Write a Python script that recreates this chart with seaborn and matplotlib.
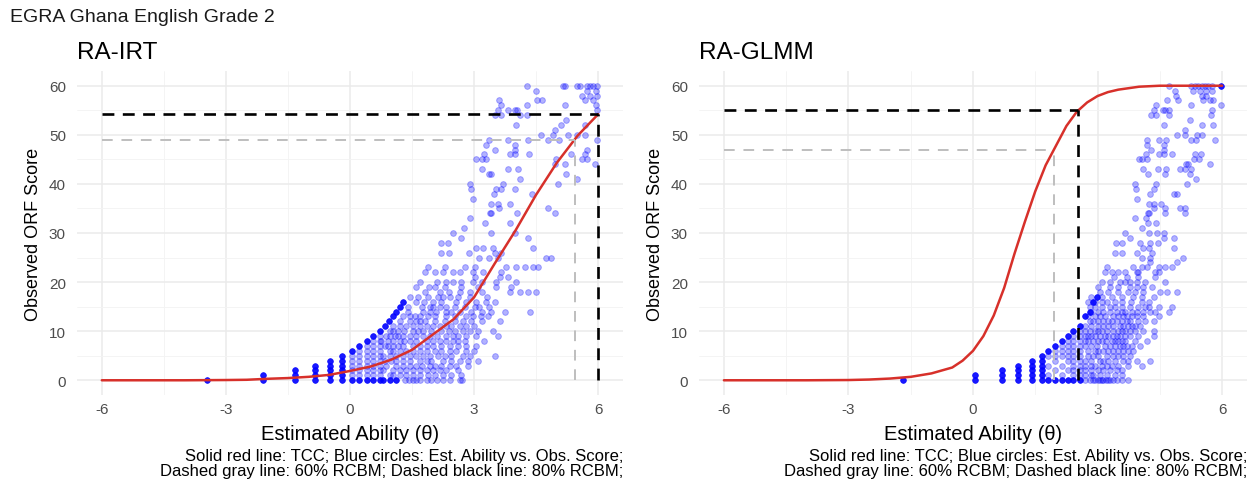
import numpy as np
import pandas as pd
import matplotlib
matplotlib.use("Agg")
import matplotlib.pyplot as plt
import seaborn as sns
from matplotlib.ticker import MultipleLocator

# ---------------- data ----------------
suptitle = "EGRA Ghana English Grade 2"
panel_titles = ["RA-IRT", "RA-GLMM"]
x_label = "Estimated Ability (θ)"
y_label = "Observed ORF Score"
caption = ("Solid red line: TCC; Blue circles: Est. Ability vs. Obs. Score;\n"
           "Dashed gray line: 60% RCBM; Dashed black line: 80% RCBM;")
x_ticks = [-6, -3, 0, 3, 6]
y_ticks = [0, 10, 20, 30, 40, 50, 60]

# test characteristic curves (theta, expected score)
irt_tcc_theta = [-6, -5, -4, -3, -2.5, -2, -1.5, -1, -0.5, 0, 0.5, 1, 1.5, 2, 2.5, 3,
                 3.5, 4, 4.5, 5, 5.5, 6]
irt_tcc_score = [0, 0, 0, 0.05, 0.1, 0.3, 0.45, 0.7, 1.1, 1.9, 2.8, 4.2, 6.2, 9.3, 12.4,
                 16.9, 23.8, 30.5, 37.8, 44.3, 49.8, 54.2]
glmm_tcc_theta = [-6, -5, -4, -3, -2.5, -2, -1.5, -1, -0.5, -0.25, 0, 0.25, 0.5, 0.75, 1,
                  1.25, 1.5, 1.75, 2, 2.25, 2.5, 2.75, 3, 3.25, 3.5, 4, 4.5, 5, 5.5, 6]
glmm_tcc_score = [0, 0, 0, 0.05, 0.15, 0.35, 0.7, 1.4, 2.6, 4.0, 6.0, 9.0, 13.2, 18.8,
                  25.8, 32.3, 38.5, 43.8, 47.8, 51.8, 54.7, 56.6, 57.9, 58.7, 59.2, 59.8,
                  60, 60, 60, 60]

# RCBM cut points (theta, score)
irt_cut60 = (5.43, 49.0)
irt_cut80 = (6.0, 54.3)
glmm_cut60 = (1.94, 47.0)
glmm_cut80 = (2.53, 55.0)

# observed points: rows by score; many overlapping students (dense) kept apart
irt_dense_scores = [0, 1, 2, 3, 4, 5, 6, 7, 8, 9, 10, 11, 12, 13, 14, 15, 16]
irt_dense_thetas = [
    [-3.45, -2.1, -1.33, -0.85, -0.48, -0.2, 0.04, 0.22, 0.4, 0.56, 0.73, 0.8, 0.96, 1.12],
    [-2.1, -1.33, -0.85, -0.48, -0.2],
    [-1.33, -0.85, -0.48, -0.2],
    [-0.85, -0.48, -0.2],
    [-0.48, -0.2],
    [-0.2],
    [0.04], [0.22], [0.4], [0.56], [0.73], [0.85], [0.95], [1.05], [1.12], [1.21], [1.28],
]
irt_scores = list(range(0, 24)) + [25, 26, 27, 28, 29, 30, 31, 32, 33, 34, 35, 36, 37, 38,
                                   39, 40, 41, 42, 43, 44, 45, 46, 47, 48, 49, 50, 51, 52,
                                   53, 54, 55, 56, 57, 58, 59, 60]
irt_thetas = [
    [1.32, 1.42, 1.52, 1.6, 1.69, 1.85, 1.97, 2.1, 2.25, 2.41, 2.65, 2.71],
    [0.04, 0.22, 0.4, 0.56, 0.73, 0.96, 1.05, 1.2, 1.36, 1.52, 1.69, 1.89, 2.05, 2.25,
     2.45, 2.69],
    [0.04, 0.22, 0.4, 0.56, 0.73, 0.8, 1.04, 1.2, 1.36, 1.52, 1.69, 1.85, 2.01, 2.17,
     2.33, 2.6],
    [0.04, 0.22, 0.4, 0.56, 0.73, 0.88, 1.12, 1.28, 1.44, 1.6, 1.73, 1.93, 2.05, 2.21,
     2.41, 2.57, 2.85],
    [0.04, 0.22, 0.4, 0.56, 0.73, 0.85, 1.0, 1.12, 1.28, 1.44, 1.69, 1.85, 1.97, 2.25,
     2.45, 2.65, 2.85, 3.09],
    [0.04, 0.22, 0.4, 0.56, 0.73, 0.8, 0.96, 1.12, 1.28, 1.44, 1.6, 1.77, 1.93, 2.13,
     2.29, 2.45, 2.73, 2.9, 3.5],
    [0.22, 0.4, 0.56, 0.73, 0.96, 1.05, 1.2, 1.36, 1.52, 1.69, 1.85, 2.05, 2.21, 2.41,
     2.57, 2.81, 3.0],
    [0.4, 0.56, 0.73, 0.84, 0.92, 1.04, 1.16, 1.28, 1.52, 1.69, 1.85, 2.01, 2.21, 2.41,
     2.61, 2.81, 3.05],
    [0.56, 0.73, 0.76, 0.92, 1.05, 1.2, 1.3, 1.44, 1.6, 1.85, 2.01, 2.17, 2.33, 2.49,
     2.61, 2.77, 3.25],
    [0.73, 0.88, 0.96, 1.08, 1.16, 1.28, 1.44, 1.6, 1.77, 1.93, 2.1, 2.33, 2.49, 2.61,
     2.8, 3.05, 3.58],
    [0.96, 1.05, 1.16, 1.3, 1.52, 1.65, 1.77, 1.95, 2.21, 2.4, 2.53, 2.73, 2.89, 3.1,
     3.45],
    [1.04, 1.2, 1.36, 1.52, 1.69, 1.85, 2.01, 2.17, 2.33, 2.45, 2.65, 2.81, 3.0],
    [1.2, 1.44, 1.6, 1.69, 1.81, 2.05, 2.29, 2.53, 2.73, 2.93, 3.2, 3.62],
    [1.28, 1.44, 1.56, 1.69, 1.89, 2.05, 2.33, 2.53, 2.81, 2.97, 3.17, 3.33],
    [1.4, 1.77, 1.93, 2.09, 2.33, 2.45, 2.65, 2.93, 3.2, 3.41, 3.74, 4.34],
    [1.4, 1.73, 1.93, 2.01, 2.17, 2.33, 2.53, 2.77, 3.01, 3.13, 3.37],
    [1.6, 1.8, 2.0, 2.21, 2.57, 2.8, 3.05, 3.29, 3.5],
    [1.44, 1.65, 1.89, 2.13, 2.25, 2.41, 2.6, 2.9, 3.3],
    [1.81, 2.17, 2.4, 2.65, 2.9, 3.2, 3.86, 4.1, 4.3, 4.5],
    [1.6, 1.9, 2.05, 2.3, 2.69, 3.1, 3.54, 3.9],
    [1.69, 2.1, 2.33, 2.49, 2.69, 2.97, 3.2, 3.54, 4.02],
    [3.01, 3.62, 3.82],
    [1.81, 2.05, 2.25, 2.49, 2.65, 2.97, 3.21, 3.66],
    [1.89, 2.3, 2.77, 3.01, 3.78, 4.02, 4.22, 4.42, 4.54],
    [3.13, 3.37, 3.58, 4.74, 4.86],
    [2.21, 2.4, 2.88, 3.5, 3.64],
    [3.04, 3.22, 3.46, 4.43],
    [2.21, 2.37],
    [2.69, 4.31],
    [2.49, 3.4, 4.0],
    [2.76],
    [3.26, 3.86],
    [2.91],
    [3.38, 3.42, 4.04, 4.95],
    [3.6, 4.79],
    [3.4, 3.58, 3.86],
    [2.98],
    [3.48, 4.39],
    [2.92, 3.54, 3.66, 3.98],
    [2.9, 3.7, 5.03],
    [4.1, 5.48],
    [3.36, 3.42, 5.21],
    [3.18, 3.82, 4.06],
    [4.95, 5.19, 5.92],
    [3.04, 3.18, 3.28, 4.99, 5.6, 5.73],
    [3.24, 3.86, 4.0, 4.33, 5.35, 5.68],
    [3.5, 3.98, 5.72],
    [3.28, 3.98],
    [3.36, 3.82, 4.31, 4.79, 5.06, 5.96],
    [4.61, 4.91, 5.27, 5.48, 5.68],
    [4.95],
    [4.02, 5.11, 5.68],
    [5.23],
    [3.5, 3.66, 4.1, 4.27],
    [3.58, 3.82, 3.98, 4.04, 5.96],
    [3.64, 4.27, 5.19, 5.94],
    [3.6, 4.51, 4.63, 5.68, 5.88],
    [5.6, 5.8, 5.96],
    [4.49, 5.72, 5.94],
    [4.27, 5.15, 5.19, 5.48, 5.56, 5.72, 5.8, 5.88, 5.96],
]

glmm_dense_scores = [0, 1, 2, 3, 4, 5, 6, 7, 8, 9, 10, 11, 13, 14, 16, 17, 60]
glmm_dense_thetas = [
    [-1.68, 0.05, 0.69, 1.09, 1.41, 1.66, 1.81, 1.98, 2.14, 2.3, 2.42, 2.58],
    [0.05, 0.69, 1.09, 1.41, 1.66],
    [0.69, 1.09, 1.41, 1.66],
    [1.09, 1.41, 1.66],
    [1.41, 1.66],
    [1.66],
    [1.81], [1.98], [2.14], [2.3], [2.42], [2.58], [2.7], [2.82], [2.9], [2.98],
    [5.98],
]
glmm_scores = list(range(0, 61))
glmm_thetas = [
    [2.7, 2.82, 2.9, 2.94, 3.02, 3.06, 3.1, 3.14, 3.2, 3.26, 3.3, 3.38, 3.46, 3.58, 3.74],
    [1.81, 2.14, 2.42, 2.58, 2.7, 2.85, 2.9, 3.06, 3.22, 3.42, 3.58],
    [1.98, 2.3, 2.42, 2.58, 2.7, 2.85, 3.0, 3.14, 3.3, 3.46, 3.58],
    [1.81, 2.14, 2.42, 2.58, 2.7, 2.85, 2.94, 3.1, 3.22, 3.34, 3.5, 3.74, 4.06],
    [1.98, 2.3, 2.42, 2.58, 2.7, 2.85, 3.06, 3.14, 3.26, 3.42, 3.62, 3.74, 3.94, 4.27],
    [1.81, 1.98, 2.14, 2.3, 2.42, 2.58, 2.77, 2.9, 3.02, 3.22, 3.38, 3.5, 3.62, 3.78],
    [1.98, 2.14, 2.3, 2.42, 2.58, 2.77, 2.94, 3.02, 3.14, 3.26, 3.38, 3.5, 3.62, 3.74,
     3.86],
    [2.14, 2.3, 2.42, 2.58, 2.7, 2.85, 2.98, 3.18, 3.3, 3.42, 3.54, 3.62, 3.7, 3.82, 4.02],
    [2.3, 2.42, 2.58, 2.7, 2.77, 2.9, 3.02, 3.1, 3.2, 3.34, 3.42, 3.5, 3.58, 3.66, 3.9,
     4.19],
    [2.42, 2.58, 2.7, 2.77, 2.85, 2.94, 3.06, 3.18, 3.26, 3.38, 3.46, 3.54, 3.66, 3.78,
     3.98, 4.35],
    [2.58, 2.7, 2.82, 2.94, 3.02, 3.1, 3.22, 3.38, 3.5, 3.58, 3.66, 3.78, 3.9, 4.1, 4.35],
    [2.7, 2.85, 3.02, 3.14, 3.26, 3.38, 3.54, 3.62, 3.74, 3.82, 3.9, 4.02],
    [2.82, 2.9, 3.02, 3.14, 3.26, 3.34, 3.46, 3.58, 3.7, 3.78, 3.98, 4.15, 4.35],
    [2.77, 2.94, 3.06, 3.18, 3.38, 3.5, 3.62, 3.7, 3.82, 3.94, 4.1, 4.47],
    [2.85, 3.0, 3.14, 3.3, 3.46, 3.58, 3.66, 3.82, 3.94, 4.1, 4.27, 4.39, 4.71],
    [2.81, 2.94, 3.1, 3.3, 3.42, 3.58, 3.78, 3.98, 4.15, 4.23, 4.47, 4.79],
    [2.77, 2.94, 3.1, 3.22, 3.42, 3.6, 3.8, 4.06, 4.23],
    [2.85, 3.1, 3.34, 3.6, 3.86, 4.06, 4.35],
    [3.06, 3.26, 3.5, 3.74, 3.9, 4.1, 4.51, 4.67, 4.91],
    [3.02, 3.3, 3.5, 3.78, 3.94, 4.1, 4.31],
    [3.1, 3.3, 3.54, 3.66, 3.78, 3.94, 4.15, 4.63],
    [3.4, 3.7, 3.97, 4.39],
    [3.18, 3.34, 3.5, 3.66, 3.94, 3.98, 4.39, 4.47],
    [3.22, 3.86, 4.06, 4.19, 4.47, 4.63, 4.79],
    [4.27, 4.91],
    [4.06, 4.27, 5.07],
    [3.42, 3.58, 3.94, 4.31],
    [4.1, 4.23, 4.83],
    [3.44, 3.58, 4.02, 4.27, 4.45],
    [3.78, 4.59, 4.83],
    [3.65, 4.24, 4.43, 4.61],
    [4.06],
    [4.21, 4.41],
    [3.9, 4.17],
    [4.21, 4.25, 4.63, 5.1],
    [4.37, 4.63, 4.98, 5.1],
    [4.23, 4.35, 4.53],
    [3.95],
    [4.27, 4.85, 4.91],
    [3.93, 4.35],
    [3.9, 4.41, 5.16],
    [5.38],
    [4.21, 4.63, 5.23],
    [4.09, 4.45, 4.65, 4.98, 5.11, 5.26],
    [5.14, 5.18, 5.7],
    [4.0, 4.06, 4.19, 5.32, 5.44],
    [4.17, 4.49, 4.61, 4.79, 5.34, 5.5],
    [4.29, 4.61],
    [4.19, 4.61],
    [4.19, 4.47, 4.65, 5.24, 5.38, 5.84],
    [4.92, 5.1, 5.4, 5.52],
    [5.1],
    [4.61, 5.52, 5.77],
    [5.23],
    [4.29, 4.41, 4.73, 5.73],
    [4.35, 4.57, 4.63, 4.72, 5.76],
    [4.41, 5.26, 5.98],
    [4.68, 4.94, 5.55, 5.71, 5.79],
    [4.9, 5.51, 5.62],
    [4.87, 5.31, 5.47, 5.62, 5.75],
    [4.73, 5.26, 5.35, 5.43, 5.51, 5.59, 5.67, 5.75],
]


def rows_to_df(scores, thetas):
    xs, ys = [], []
    for s, ts in zip(scores, thetas):
        for t in ts:
            xs.append(t)
            ys.append(s)
    return pd.DataFrame({"theta": xs, "score": ys})


# ---------------- style ----------------
sns.set_theme(style="whitegrid")
plt.rcParams['font.family'] = ['Liberation Sans', 'DejaVu Sans']

W, H = 1258, 481
fig = plt.figure(figsize=(W / 100, H / 100), dpi=100)

panels = [
    dict(left=77, right=623, title=panel_titles[0], tcc=(irt_tcc_theta, irt_tcc_score),
         cut60=irt_cut60, cut80=irt_cut80,
         light=rows_to_df(irt_scores, irt_thetas),
         dense=rows_to_df(irt_dense_scores, irt_dense_thetas)),
    dict(left=699, right=1247, title=panel_titles[1], tcc=(glmm_tcc_theta, glmm_tcc_score),
         cut60=glmm_cut60, cut80=glmm_cut80,
         light=rows_to_df(glmm_scores, glmm_thetas),
         dense=rows_to_df(glmm_dense_scores, glmm_dense_thetas)),
]

top_px, bot_px = 72, 396
red = "#D7302A"
blue = "#0000FF"

for p in panels:
    ax = fig.add_axes([p["left"] / W, 1 - bot_px / H, (p["right"] - p["left"]) / W,
                       (bot_px - top_px) / H])
    ax.set_facecolor("white")
    for s in ax.spines.values():
        s.set_visible(False)
    ax.set_xlim(-6.6, 6.6)
    ax.set_ylim(-3, 63)
    ax.xaxis.set_major_locator(MultipleLocator(3))
    ax.xaxis.set_minor_locator(MultipleLocator(1.5))
    ax.yaxis.set_major_locator(MultipleLocator(10))
    ax.yaxis.set_minor_locator(MultipleLocator(5))
    ax.grid(which="major", color="#EBEBEB", lw=1.1)
    ax.grid(which="minor", color="#F3F3F3", lw=0.6)
    ax.set_axisbelow(True)
    ax.tick_params(which="both", length=0, labelsize=11, labelcolor="#4D4D4D")
    ax.tick_params(axis="y", pad=8)
    ax.tick_params(axis="x", pad=5)
    ax.set_xticks(x_ticks)
    ax.set_xticklabels([str(t) for t in x_ticks])
    ax.set_yticks(y_ticks)

    sns.scatterplot(data=p["light"], x="theta", y="score", ax=ax, s=17, color=blue,
                    alpha=0.3, edgecolor=blue, linewidth=0.7, legend=False, zorder=2)
    sns.scatterplot(data=p["dense"], x="theta", y="score", ax=ax, s=17, color=blue,
                    alpha=0.9, edgecolor=blue, linewidth=0.5, legend=False, zorder=2)

    tx, ty = p["tcc"]
    sns.lineplot(x=tx, y=ty, ax=ax, color=red, lw=1.8, zorder=3, sort=True)

    xmin = tx[0]
    c60t, c60s = p["cut60"]
    c80t, c80s = p["cut80"]
    ax.plot([xmin, c60t], [c60s, c60s], color="#BEBEBE", lw=1.4, ls=(0, (5.5, 4.5)), zorder=4)
    ax.plot([c60t, c60t], [0, c60s], color="#BEBEBE", lw=1.4, ls=(0, (5.5, 4.5)), zorder=4)
    ax.plot([xmin, c80t], [c80s, c80s], color="black", lw=1.9, ls=(0, (4.5, 3.2)), zorder=5)
    ax.plot([c80t, c80t], [0, c80s], color="black", lw=1.9, ls=(0, (4.5, 3.2)), zorder=5)

    ax.set_xlabel(x_label, fontsize=14.5, labelpad=6, color="black")
    ax.set_ylabel(y_label, fontsize=13, labelpad=5, color="black")
    ax.set_title(p["title"], loc="left", fontsize=17.5, pad=9, color="black")

    fig.text(p["right"] / W, 1 - 449 / H, caption, ha="right", va="top",
             fontsize=12, linespacing=1.0, color="black")

fig.text(10 / W, 1 - 18 / H, suptitle, ha="left", va="center", fontsize=14, color="#1A1A1A")

fig.savefig("out.png", dpi=100, facecolor="white")
